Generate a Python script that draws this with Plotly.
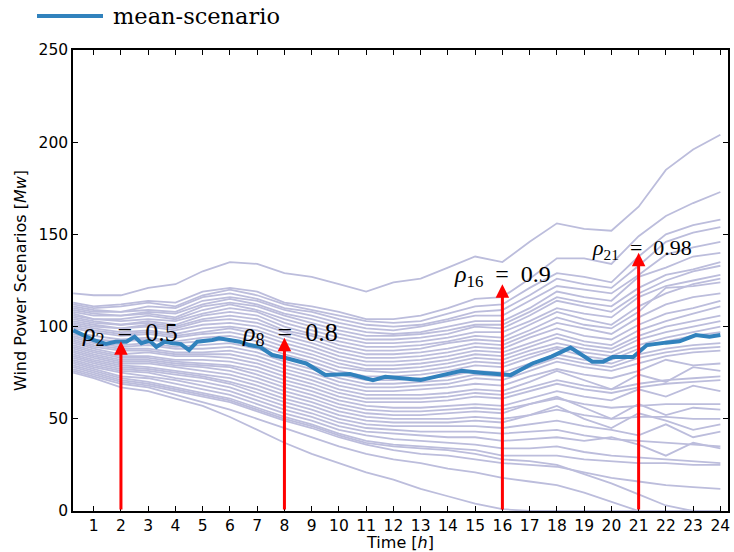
import plotly.graph_objects as go

hours = [0.25] + list(range(1, 25))

scenarios = [
    [118, 117, 117, 121, 123, 130, 135, 134, 129, 127, 123, 119, 124, 126, 132, 138, 135, 146, 156, 153, 152, 165, 185, 196, 204],
    [113, 111, 112, 114, 113, 119, 121, 119, 113, 111, 108, 104, 104, 106, 110, 115, 116, 126, 137, 137, 134, 149, 160, 167, 173],
    [112, 110, 111, 113, 111, 117, 120, 117, 112, 109, 106, 103, 102, 103, 107, 111, 112, 121, 129, 127, 124, 138, 150, 155, 158],
    [111, 109, 108, 111, 110, 116, 118, 115, 110, 108, 104, 101, 100, 101, 104, 108, 109, 117, 126, 123, 121, 133, 146, 151, 154],
    [110, 108, 108, 109, 108, 114, 116, 114, 109, 106, 102, 99, 98, 100, 103, 106, 106, 114, 122, 120, 118, 128, 139, 143, 146],
    [109, 107, 106, 108, 107, 112, 115, 112, 107, 104, 100, 97, 96, 97, 100, 103, 103, 110, 119, 116, 114, 127, 132, 138, 140],
    [108, 106, 106, 107, 105, 111, 113, 111, 106, 102, 98, 95, 95, 96, 98, 101, 101, 108, 116, 113, 111, 121, 128, 131, 135],
    [107, 104, 104, 106, 104, 109, 112, 109, 104, 100, 96, 93, 93, 94, 96, 100, 99, 106, 114, 111, 108, 118, 125, 130, 133],
    [106, 104, 103, 104, 103, 107, 110, 108, 102, 98, 94, 91, 91, 92, 94, 97, 97, 103, 110, 107, 105, 116, 122, 125, 128],
    [105, 103, 101, 103, 101, 106, 108, 106, 100, 96, 92, 89, 89, 90, 92, 95, 94, 101, 108, 104, 101, 111, 118, 123, 126],
    [104, 102, 101, 102, 100, 104, 106, 104, 98, 95, 90, 87, 87, 88, 91, 93, 92, 98, 105, 101, 99, 108, 121, 122, 124],
    [103, 101, 99, 101, 99, 103, 104, 102, 97, 93, 88, 85, 85, 86, 88, 91, 90, 96, 102, 99, 96, 105, 112, 116, 118],
    [102, 100, 99, 100, 98, 101, 102, 100, 95, 91, 86, 83, 83, 84, 86, 89, 88, 94, 99, 95, 93, 101, 107, 110, 114],
    [101, 99, 97, 98, 96, 99, 100, 98, 93, 89, 84, 81, 81, 82, 84, 87, 86, 91, 96, 92, 90, 98, 103, 107, 111],
    [100, 98, 96, 97, 95, 97, 99, 96, 91, 87, 82, 79, 79, 80, 82, 85, 84, 89, 94, 90, 88, 95, 100, 103, 106],
    [99, 97, 95, 96, 94, 96, 97, 94, 89, 85, 80, 77, 77, 78, 80, 83, 82, 87, 91, 88, 86, 93, 97, 100, 103],
    [97, 95, 93, 94, 92, 94, 95, 92, 87, 83, 78, 76, 75, 76, 78, 81, 80, 85, 89, 86, 84, 90, 94, 97, 100],
    [96, 93, 92, 93, 91, 92, 93, 90, 85, 81, 76, 73, 73, 74, 76, 79, 78, 83, 88, 84, 82, 88, 92, 95, 97],
    [95, 92, 90, 91, 89, 90, 91, 88, 83, 79, 74, 71, 71, 72, 73, 76, 75, 80, 85, 82, 80, 85, 88, 90, 91],
    [94, 91, 89, 90, 88, 88, 89, 86, 81, 77, 72, 69, 69, 70, 71, 74, 73, 78, 83, 80, 78, 83, 86, 88, 89],
    [93, 90, 88, 88, 86, 86, 87, 84, 79, 75, 70, 67, 67, 68, 69, 72, 71, 76, 81, 78, 76, 80, 84, 86, 87],
    [92, 89, 87, 87, 85, 85, 85, 82, 77, 73, 68, 65, 65, 66, 67, 69, 68, 73, 77, 74, 72, 76, 82, 79, 80],
    [91, 88, 85, 86, 84, 84, 83, 80, 75, 71, 66, 63, 63, 63, 64, 66, 65, 70, 76, 71, 66, 74, 70, 78, 76],
    [90, 87, 84, 84, 82, 82, 81, 78, 73, 69, 64, 61, 61, 61, 62, 64, 63, 67, 71, 68, 66, 69, 71, 72, 73],
    [89, 86, 83, 83, 81, 80, 79, 76, 71, 67, 62, 59, 59, 59, 60, 62, 61, 65, 69, 66, 64, 67, 69, 70, 71],
    [88, 85, 82, 82, 80, 79, 78, 74, 69, 65, 60, 57, 56, 56, 57, 58, 57, 61, 65, 62, 60, 66, 62, 68, 65],
    [87, 84, 81, 81, 79, 78, 76, 72, 67, 63, 58, 55, 54, 54, 55, 56, 55, 58, 61, 58, 56, 57, 58, 58, 58],
    [86, 83, 80, 80, 78, 76, 74, 70, 65, 61, 56, 53, 52, 52, 53, 54, 53, 58, 62, 56, 50, 58, 52, 56, 55],
    [85, 82, 79, 78, 76, 74, 72, 68, 63, 59, 54, 51, 50, 50, 50, 51, 50, 52, 55, 52, 50, 51, 51, 50, 50],
    [84, 81, 78, 77, 75, 73, 70, 66, 61, 57, 52, 49, 48, 48, 48, 49, 48, 52, 57, 50, 45, 53, 49, 44, 47],
    [83, 80, 77, 76, 74, 72, 69, 64, 59, 55, 50, 47, 46, 46, 46, 46, 45, 47, 49, 46, 44, 41, 47, 40, 43],
    [82, 79, 76, 75, 72, 70, 67, 62, 57, 53, 48, 45, 44, 43, 43, 43, 42, 43, 44, 41, 39, 38, 37, 36, 35],
    [81, 78, 75, 73, 71, 68, 65, 60, 55, 51, 46, 43, 42, 41, 40, 40, 38, 39, 40, 38, 40, 36, 30, 37, 34],
    [80, 77, 73, 72, 69, 66, 63, 58, 53, 49, 44, 41, 39, 38, 37, 36, 34, 34, 35, 32, 30, 29, 28, 27, 26],
    [79, 76, 72, 70, 67, 64, 61, 56, 51, 47, 42, 38, 36, 35, 34, 33, 30, 30, 30, 28, 27, 26, 26, 25, 25],
    [78, 75, 71, 69, 66, 63, 60, 55, 50, 46, 41, 37, 35, 34, 33, 31, 28, 27, 25, 20, 15, 9, 3, 0, 0],
    [77, 74, 70, 68, 65, 62, 59, 54, 49, 45, 40, 36, 33, 31, 30, 28, 26, 25, 24, 21, 18, 16, 14, 13, 12],
    [76, 73, 69, 67, 63, 59, 55, 50, 45, 40, 35, 31, 28, 26, 23, 21, 18, 16, 14, 10, 5, 0, 0, 0, 0],
    [75, 72, 67, 65, 61, 57, 51, 44, 37, 31, 26, 21, 17, 12, 8, 4, 1, 0, 0, 0, 0, 0, 0, 0, 0],
]

mean_t = [0.25, 1.0, 1.45, 1.8, 2.2, 2.5, 2.75, 3.05, 3.3, 3.6, 3.9, 4.2, 4.5, 4.8, 5.35, 5.6,
          6.35, 6.7, 7.1, 7.55, 8.05, 8.8, 9.5, 10.4, 11.25, 11.7, 12.3, 13.0, 13.6, 14.5, 15.2,
          15.9, 16.3, 17.1, 17.8, 18.5, 19.3, 19.7, 20.05, 20.8, 21.3, 22.0, 22.5, 23.1, 23.6, 24.0]
mean_v = [98, 92.7, 90.6, 91.8, 91.8, 94.5, 91, 92.4, 89, 91.8, 91, 90.5, 87.3, 91.8, 92.7, 93.6,
          91.8, 90, 89, 84.6, 83, 80, 73.8, 74.3, 71, 72.8, 72, 71, 73, 76, 75,
          74.3, 73.7, 80, 83.7, 88.6, 81, 81, 83.5, 83.5, 90, 91.3, 92, 95.4, 94.5, 95.4]

arrow_hours = [2, 8, 16, 21]
arrow_tips = [92, 94, 123, 140]
SP = "\u2002"
label_texts = [f"<i>ρ</i><sub>2</sub>{SP}={SP}0.5", f"<i>ρ</i><sub>8</sub>{SP}={SP}0.8",
               f"<i>ρ</i><sub>16</sub>{SP}={SP}0.9", f"<i>ρ</i><sub>21</sub>{SP}={SP}0.98"]
label_x = [2.35, 8.2, 16.0, 21.12]
label_y = [96, 96, 127.5, 142]
label_size = [26, 26, 24, 22]

x_ticks = list(range(1, 25))
y_ticks = [0, 50, 100, 150, 200, 250]

SCEN_COLOR = "rgb(188,189,220)"
MEAN_COLOR = "rgb(49,130,189)"

fig = go.Figure()
for s in scenarios:
    fig.add_trace(go.Scatter(x=hours, y=s, mode="lines",
                             line=dict(color=SCEN_COLOR, width=1.8),
                             showlegend=False, hoverinfo="skip"))
fig.add_trace(go.Scatter(x=mean_t, y=mean_v, mode="lines",
                         line=dict(color=MEAN_COLOR, width=4),
                         name="mean-scenario", showlegend=False))

annotations = []
for h, tip in zip(arrow_hours, arrow_tips):
    annotations.append(dict(x=h, y=tip, ax=h, ay=0, xref="x", yref="y",
                            axref="x", ayref="y", text="", showarrow=True,
                            arrowhead=2, arrowsize=0.9, arrowwidth=3,
                            arrowcolor="red"))
for t, lx, ly, fs in zip(label_texts, label_x, label_y, label_size):
    annotations.append(dict(x=lx, y=ly, xref="x", yref="y", text=t,
                            showarrow=False,
                            font=dict(family="Liberation Serif", size=fs, color="black")))
# legend (manual)
annotations.append(dict(x=(113 - 73) / 655, y=1 + (50 - 16) / 461, xref="paper", yref="paper",
                        text="mean-scenario", showarrow=False, xanchor="left", yanchor="middle",
                        xshift=-2,
                        font=dict(family="DejaVu Serif", size=22.5, color="black")))

fig.update_layout(
    width=734, height=552,
    margin=dict(l=73, r=6, t=50, b=41),
    paper_bgcolor="white", plot_bgcolor="white",
    annotations=annotations,
    shapes=[dict(type="line", xref="paper", yref="paper",
                 x0=(37 - 73) / 655, x1=(103 - 73) / 655,
                 y0=1 + (50 - 16) / 461, y1=1 + (50 - 16) / 461,
                 line=dict(color=MEAN_COLOR, width=4))],
    font=dict(family="DejaVu Sans", color="black"),
)
fig.update_xaxes(range=[0.24, 24.28], tickvals=x_ticks, ticks="inside", ticklen=5,
                 tickwidth=1, tickcolor="black", showline=True, linecolor="black",
                 linewidth=1.5, mirror="ticks", showgrid=False, zeroline=False,
                 automargin=False,
                 tickfont=dict(size=15.5, family="DejaVu Sans"),
                 title=dict(text="Time [<i>h</i>]", font=dict(size=16), standoff=3))
fig.update_yaxes(range=[0, 250], tickvals=y_ticks, ticks="inside", ticklen=5,
                 tickwidth=1, tickcolor="black", showline=True, linecolor="black",
                 linewidth=1.5, mirror="ticks", showgrid=False, zeroline=False,
                 automargin=False,
                 tickfont=dict(size=15.5, family="DejaVu Sans"),
                 title=dict(text="Wind Power Scenarios [<i>Mw</i>]", font=dict(size=16), standoff=8))

fig.write_html("out.html")
